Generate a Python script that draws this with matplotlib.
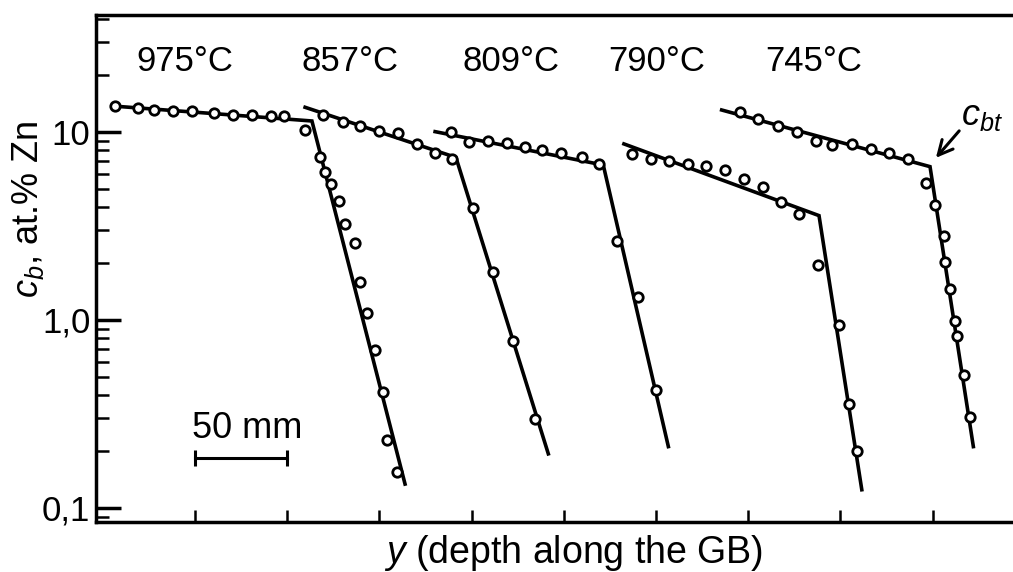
import matplotlib
matplotlib.use("Agg")
import matplotlib.pyplot as plt
from matplotlib.ticker import FixedLocator, FixedFormatter, LogLocator, NullFormatter

plt.rcParams['font.family'] = ['Liberation Sans', 'DejaVu Sans']
plt.rcParams['mathtext.fontset'] = 'custom'
plt.rcParams['mathtext.rm'] = 'Liberation Sans'
plt.rcParams['mathtext.it'] = 'Liberation Sans:italic'

# ---- data (depth in µm, arbitrary origin; concentration in at.% Zn) ----
temps = ['975°C', '857°C', '809°C', '790°C', '745°C']
label_x = [44.3, 134.1, 221.1, 300.5, 385.4]
label_y = 23.6

x_975 = [6.6, 18.9, 27.9, 38.2, 48.2, 60.5, 70.4, 80.7, 91.2, 98.4,
         109.7, 117.8, 120.5, 123.6, 128.3, 131.3, 136.8, 139.5, 143.1, 147.6, 152.1, 154.0, 159.7]
c_975 = [13.75, 13.37, 13.09, 12.98, 12.98, 12.58, 12.31, 12.31, 12.16, 12.16,
         10.25, 7.39, 6.15, 5.29, 4.31, 3.24, 2.58, 1.60, 1.09, 0.692, 0.416, 0.230, 0.156]
fit_x_975 = [5.0, 113.4, 163.9]
fit_c_975 = [13.75, 11.44, 0.134]

x_857 = [119.3, 130.4, 139.5, 149.9, 159.9, 170.2, 180.2, 189.6,
         200.6, 211.8, 222.3, 234.4]
c_857 = [12.31, 11.26, 10.80, 10.16, 9.84, 8.60, 7.76, 7.16,
         3.96, 1.79, 0.776, 0.296]
fit_x_857 = [109.7, 191.5, 241.6]
fit_c_857 = [13.53, 7.32, 0.194]

x_809 = [188.7, 198.5, 209.1, 219.2, 229.2, 238.3, 248.5, 259.7, 269.1,
         278.7, 290.1, 300.0]
c_809 = [10.0, 8.88, 8.93, 8.71, 8.27, 8.05, 7.70, 7.36, 6.76,
         2.63, 1.33, 0.423]
fit_x_809 = [180.2, 271.4, 306.7]
fit_c_809 = [10.04, 6.67, 0.212]

x_790 = [286.8, 297.1, 307.3, 317.2, 327.3, 337.2, 347.7, 357.9, 367.9, 377.7,
         388.0, 399.4, 404.8, 409.2]
c_790 = [7.64, 7.16, 7.05, 6.72, 6.59, 6.26, 5.64, 5.08, 4.23, 3.64,
         1.97, 0.941, 0.359, 0.200]
fit_x_790 = [282.6, 388.4, 411.6]
fit_c_790 = [8.64, 3.59, 0.125]

x_745 = [345.6, 355.5, 366.3, 376.6, 386.8, 395.3, 406.1, 416.4, 426.5, 436.8,
         446.4, 451.3, 456.2, 456.7, 459.4, 462.1, 463.4, 467.0, 470.3]
c_745 = [12.73, 11.68, 10.76, 10.04, 8.99, 8.53, 8.64, 8.09, 7.76, 7.16,
         5.37, 4.09, 2.80, 2.04, 1.47, 0.991, 0.822, 0.510, 0.306]
fit_x_745 = [335.6, 448.6, 472.1]
fit_c_745 = [13.09, 6.54, 0.212]

series_x = [x_975, x_857, x_809, x_790, x_745]
series_c = [c_975, c_857, c_809, c_790, c_745]
fits_x = [fit_x_975, fit_x_857, fit_x_809, fit_x_790, fit_x_745]
fits_c = [fit_c_975, fit_c_857, fit_c_809, fit_c_790, fit_c_745]

x_ticks = [50, 100, 150, 200, 250, 300, 350, 400, 450]
y_major = [0.1, 1.0, 10.0]
y_major_labels = ['0,1', '1,0', '10']

scalebar_x = [50, 100]
scalebar_c = 0.1845
scalebar_label = '50 mm'

cbt_tip = (450.8, 7.10)
cbt_tail = (465.4, 10.4)

# ---- figure ----
fig = plt.figure(figsize=(10.13, 5.72), dpi=100)
ax = fig.add_axes([96 / 1013, 50 / 572, 917 / 1013, 507 / 572])
ax.set_yscale('log')
ax.set_xlim(-3.7, 493.6)
ax.set_ylim(0.0842, 41.9)

for fx, fc in zip(fits_x, fits_c):
    ax.plot(fx, fc, color='black', lw=2.6, solid_joinstyle='miter', zorder=2)
for sx, sc in zip(series_x, series_c):
    ax.plot(sx, sc, linestyle='none', marker='o', markersize=6.8,
            markerfacecolor='white', markeredgecolor='black', markeredgewidth=2.0, zorder=3)

for t, lx in zip(temps, label_x):
    ax.text(lx, label_y, t, ha='center', va='center', fontsize=25)

# scale bar
ax.plot(scalebar_x, [scalebar_c, scalebar_c], color='black', lw=2.2,
        marker='|', markersize=11, markeredgewidth=2.2)
ax.text(78.2, 0.266, scalebar_label, ha='center', va='center', fontsize=26)

# c_bt annotation
ax.annotate('', xy=cbt_tip, xytext=cbt_tail,
            arrowprops=dict(arrowstyle='->', color='black', lw=2.2, mutation_scale=26))
ax.text(465.5, 12.3, r'$c_{bt}$', ha='left', va='center', fontsize=26)

# axes styling
for s in ['left', 'bottom', 'top']:
    ax.spines[s].set_linewidth(2.5)
ax.spines['right'].set_visible(False)

ax.xaxis.set_major_locator(FixedLocator(x_ticks))
ax.set_xticklabels([])
ax.tick_params(axis='x', which='major', direction='in', length=9, width=1.8, top=False)
ax.tick_params(axis='x', which='minor', bottom=False, top=False)

ax.yaxis.set_major_locator(FixedLocator(y_major))
ax.yaxis.set_major_formatter(FixedFormatter(y_major_labels))
ax.yaxis.set_minor_locator(LogLocator(base=10, subs=[2, 3, 4, 5, 6, 7, 8, 9]))
ax.yaxis.set_minor_formatter(NullFormatter())
ax.tick_params(axis='y', which='major', direction='in', length=18, width=2.5,
               labelsize=25, pad=4, right=False)
ax.tick_params(axis='y', which='minor', direction='in', length=9, width=1.8, right=False)

ax.set_ylabel(r'$c_b$, at.% Zn', fontsize=26, va='center')
ax.yaxis.set_label_coords(-0.074, 0.617)
ax.set_xlabel(r'$y$ (depth along the GB)', fontsize=27, va='center')
ax.xaxis.set_label_coords(0.521, -0.061)

fig.savefig('out.png', dpi=100)
